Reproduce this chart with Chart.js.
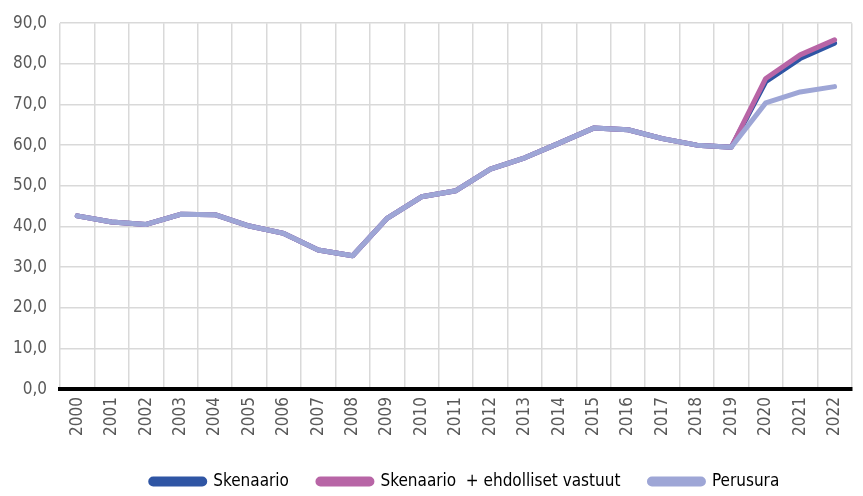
<!DOCTYPE html>
<html>
<head>
<meta charset="utf-8">
<script src="https://cdn.jsdelivr.net/npm/chart.js@4/dist/chart.umd.min.js"></script>
<style>
  html, body { margin: 0; padding: 0; background: #fff; }
  #wrap { width: 863px; height: 496px; }
</style>
</head>
<body>
<div id="wrap"><canvas id="myChart"></canvas></div>
<script>
// data
const years = ['2000','2001','2002','2003','2004','2005','2006','2007','2008','2009','2010','2011',
  '2012','2013','2014','2015','2016','2017','2018','2019','2020','2021','2022'];
const common = [42.6, 41.1, 40.5, 43.0, 42.9, 40.1, 38.3, 34.2, 32.8, 42.0, 47.3, 48.8,
  54.1, 56.9, 60.5, 64.2, 63.8, 61.6, 60.0, 59.5];
const skenaario = common.concat([75.6, 81.3, 85.1]);
const ehdolliset = common.concat([76.4, 82.2, 85.9]);
const perusura = common.concat([70.4, 73.1, 74.4]);
const yTicks = [0, 10, 20, 30, 40, 50, 60, 70, 80, 90];

const fontFam = '"Liberation Sans Narrow", "DejaVu Sans Condensed", "Roboto Condensed", sans-serif';

// legend sits a bit right of the canvas centre in the original
const legendShift = {
  id: 'legendShift',
  afterLayout(chart) {
    if (chart.legend) {
      chart.legend.left += 34;
      chart.legend.right += 34;
    }
  }
};

const ctx = document.getElementById('myChart').getContext('2d');
new Chart(ctx, {
  type: 'line',
  data: {
    labels: years,
    datasets: [
      { label: 'Skenaario', data: skenaario, borderColor: '#2f55a4', backgroundColor: '#2f55a4', order: 3 },
      { label: 'Skenaario  + ehdolliset vastuut', data: ehdolliset, borderColor: '#b865a6', backgroundColor: '#b865a6', order: 2 },
      { label: 'Perusura', data: perusura, borderColor: '#9ea6d6', backgroundColor: '#9ea6d6', order: 1 }
    ]
  },
  options: {
    responsive: true,
    maintainAspectRatio: false,
    animation: false,
    layout: { padding: { top: 6, right: 1, left: 0, bottom: -4 } },
    elements: {
      line: { borderWidth: 5, tension: 0, borderCapStyle: 'round', borderJoinStyle: 'round' },
      point: { radius: 0 }
    },
    scales: {
      x: {
        offset: true,
        grid: { offset: true, color: '#d9d9d9', lineWidth: 1.5, drawTicks: false },
        border: { color: '#000', width: 4 },
        ticks: {
          color: '#595959', maxRotation: 90, minRotation: 90, padding: 8,
          font: { family: fontFam, size: 17 }
        }
      },
      y: {
        min: 0, max: 90,
        afterBuildTicks: (axis) => { axis.ticks = yTicks.map(v => ({ value: v })); },
        grid: { color: '#d9d9d9', lineWidth: 1.5, drawTicks: false },
        border: { display: false },
        ticks: {
          color: '#595959', padding: 13,
          font: { family: fontFam, size: 17 },
          callback: (v) => v.toFixed(1).replace('.', ',')
        }
      }
    },
    plugins: {
      legend: {
        position: 'bottom',
        labels: {
          color: '#000', boxWidth: 54, boxHeight: 5, padding: 29,
          useBorderRadius: true, borderRadius: 2.5,
          font: { family: fontFam, size: 17 },
          sort: (a, b) => a.datasetIndex - b.datasetIndex
        }
      },
      tooltip: { enabled: false }
    }
  },
  plugins: [legendShift]
});
</script>
</body>
</html>
